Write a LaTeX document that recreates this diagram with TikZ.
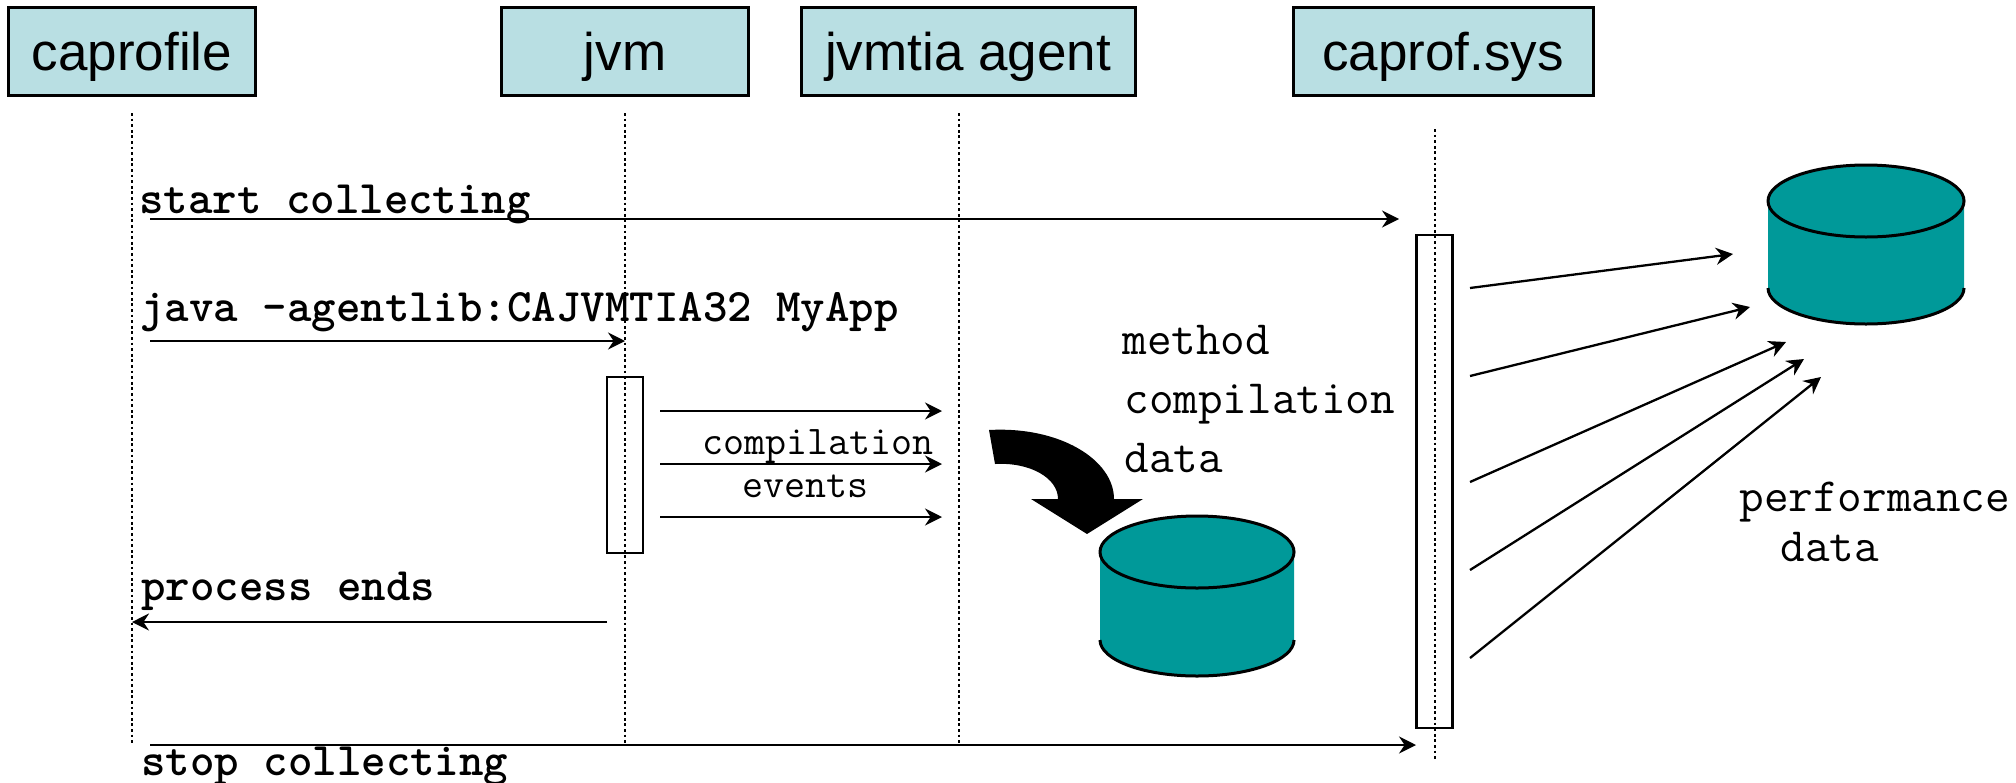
\documentclass[tikz,border=0pt]{standalone}
\usepackage{fontspec}
\setmainfont{Liberation Sans}
\usetikzlibrary{arrows.meta}
\newlength{\du}
\setlength{\du}{0.5pt}
\definecolor{headcolor}{rgb}{0.725, 0.875, 0.890}
\definecolor{drumcolor}{rgb}{0.000, 0.600, 0.600}
\tikzset{
  headbox/.style={draw=black,line width=1.5pt,fill=headcolor,inner sep=0pt,text height=63\du,text depth=25\du,font=\fontsize{26.5}{30}\selectfont},
  lifeline/.style={line width=1.2pt,dash pattern=on 1.4pt off 1.4pt},
  activebox/.style={draw=black,line width=1.3pt,inner sep=0pt,minimum width=36\du},
  flow/.style={line width=1.15pt,-{Stealth[length=8.5pt,width=8.5pt,inset=2.8pt]}},
  boldlabel/.style={anchor=base west,inner sep=0pt,font=\ttfamily\bfseries\fontsize{23.3}{26}\selectfont},
  datalabel/.style={anchor=base west,inner sep=0pt,font=\ttfamily\fontsize{23.9}{26}\selectfont},
  smalllabel/.style={anchor=base west,inner sep=0pt,font=\ttfamily\fontsize{20.4}{22}\selectfont}
}
% drum: centre x, y of top ellipse, y of bottom ellipse, half width
\newcommand{\drum}[4]{
\fill[drumcolor] (#1\du-#4\du,#2\du)--(#1\du-#4\du,#3\du) arc [start angle=180,end angle=0,x radius=#4\du,y radius=36\du]--(#1\du+#4\du,#2\du)--cycle;
\draw[line width=1.5pt] (#1\du-#4\du,#3\du) arc [start angle=180,end angle=0,x radius=#4\du,y radius=36\du];
\draw[line width=1.5pt,fill=drumcolor] (#1\du,#2\du) ellipse [x radius=#4\du,y radius=36\du];
}
\begin{document}
\begin{tikzpicture}
\pgftransformyscale{-1}
\useasboundingbox (0\du,0\du) rectangle (2016\du,782\du);
% heads
\node[headbox,minimum width=247\du] (caprofile) at (132\du,51\du){caprofile};
\node[headbox,minimum width=247\du] (jvm) at (625\du,51\du){jvm};
\node[headbox,minimum width=334\du] (agent) at (968\du,51\du){jvmtia agent};
\node[headbox,minimum width=300\du] (sys) at (1443\du,51\du){caprof.sys};
% life lines
\coordinate (caprofiletop) at (132\du,113\du);
\coordinate (caprofileend) at (132\du,743\du);
\coordinate (jvmtop) at (625\du,113\du);
\coordinate (jvmend) at (625\du,743\du);
\coordinate (agenttop) at (959\du,113\du);
\coordinate (agentend) at (959\du,743\du);
\coordinate (systop) at (1435\du,129\du);
\coordinate (sysend) at (1435\du,761\du);
\draw[lifeline] (caprofiletop)--(caprofileend);
\draw[lifeline] (jvmtop)--(jvmend);
\draw[lifeline] (agenttop)--(agentend);
\draw[lifeline] (systop)--(sysend);
% active boxes
\node[activebox,minimum height=176\du] (jvmbar) at (625\du,465\du){};
\node[activebox,minimum height=493\du] (sysbar) at (1434.5\du,481.5\du){};
% calls
\coordinate (startfrom) at (150\du,219\du);
\coordinate (startto) at (1399\du,219\du);
\draw[flow] (startfrom)--(startto);
\coordinate (javafrom) at (150\du,341\du);
\coordinate (javato) at (625\du,341\du);
\draw[flow] (javafrom)--(javato);
\coordinate (endfrom) at (607\du,622\du);
\coordinate (endto) at (132\du,622\du);
\draw[flow] (endfrom)--(endto);
\coordinate (stopfrom) at (150\du,745\du);
\coordinate (stopto) at (1416\du,745\du);
\draw[flow] (stopfrom)--(stopto);
% events
\foreach \name/\y in {a/411,b/464,c/517}{
\coordinate (event\name from) at (660\du,\y\du);
\coordinate (event\name to) at (942\du,\y\du);
\draw[flow] (event\name from)--(event\name to);
}
% performance data
\foreach \name/\ya/\xb/\yb in {a/288/1733/254,b/376/1750/307,c/482/1786/342,d/570/1804/359,e/658/1821/377}{
\coordinate (perf\name from) at (1470\du,\ya\du);
\coordinate (perf\name to) at (\xb\du,\yb\du);
\draw[flow] (perf\name from)--(perf\name to);
}
% drums
\drum{1197}{552}{640}{97}
\drum{1866}{201}{288}{98}
% big arrow
\fill (989\du,430\du) .. controls (1060\du,426\du) and (1114\du,460\du) .. (1114\du,499\du)
--(1143\du,499\du)--(1087\du,534\du)--(1031\du,499\du)--(1058\du,499\du)
.. controls (1058\du,478\du) and (1030\du,462\du) .. (995\du,464\du)--cycle;
% labels
\node[boldlabel] (startlabel) at (139\du,213\du){start collecting};
\node[boldlabel] (javalabel) at (140\du,321\du){java -agentlib:CAJVMTIA32 MyApp};
\node[boldlabel] (endlabel) at (141\du,600\du){process ends};
\node[boldlabel] (stoplabel) at (141\du,775\du){stop collecting};
\node[datalabel] (methodlabel) at (1122\du,354\du){method};
\node[datalabel] (compilelabel) at (1124\du,413\du){compilation};
\node[datalabel] (datalabel) at (1124\du,472\du){data};
\node[datalabel] (perflabel) at (1739\du,511\du){performance};
\node[datalabel] (perfdata) at (1780\du,561\du){data};
\node[smalllabel] (eventlabel) at (702\du,454\du){compilation};
\node[smalllabel] (eventlabelb) at (742\du,497\du){events};
\end{tikzpicture}
\end{document}
